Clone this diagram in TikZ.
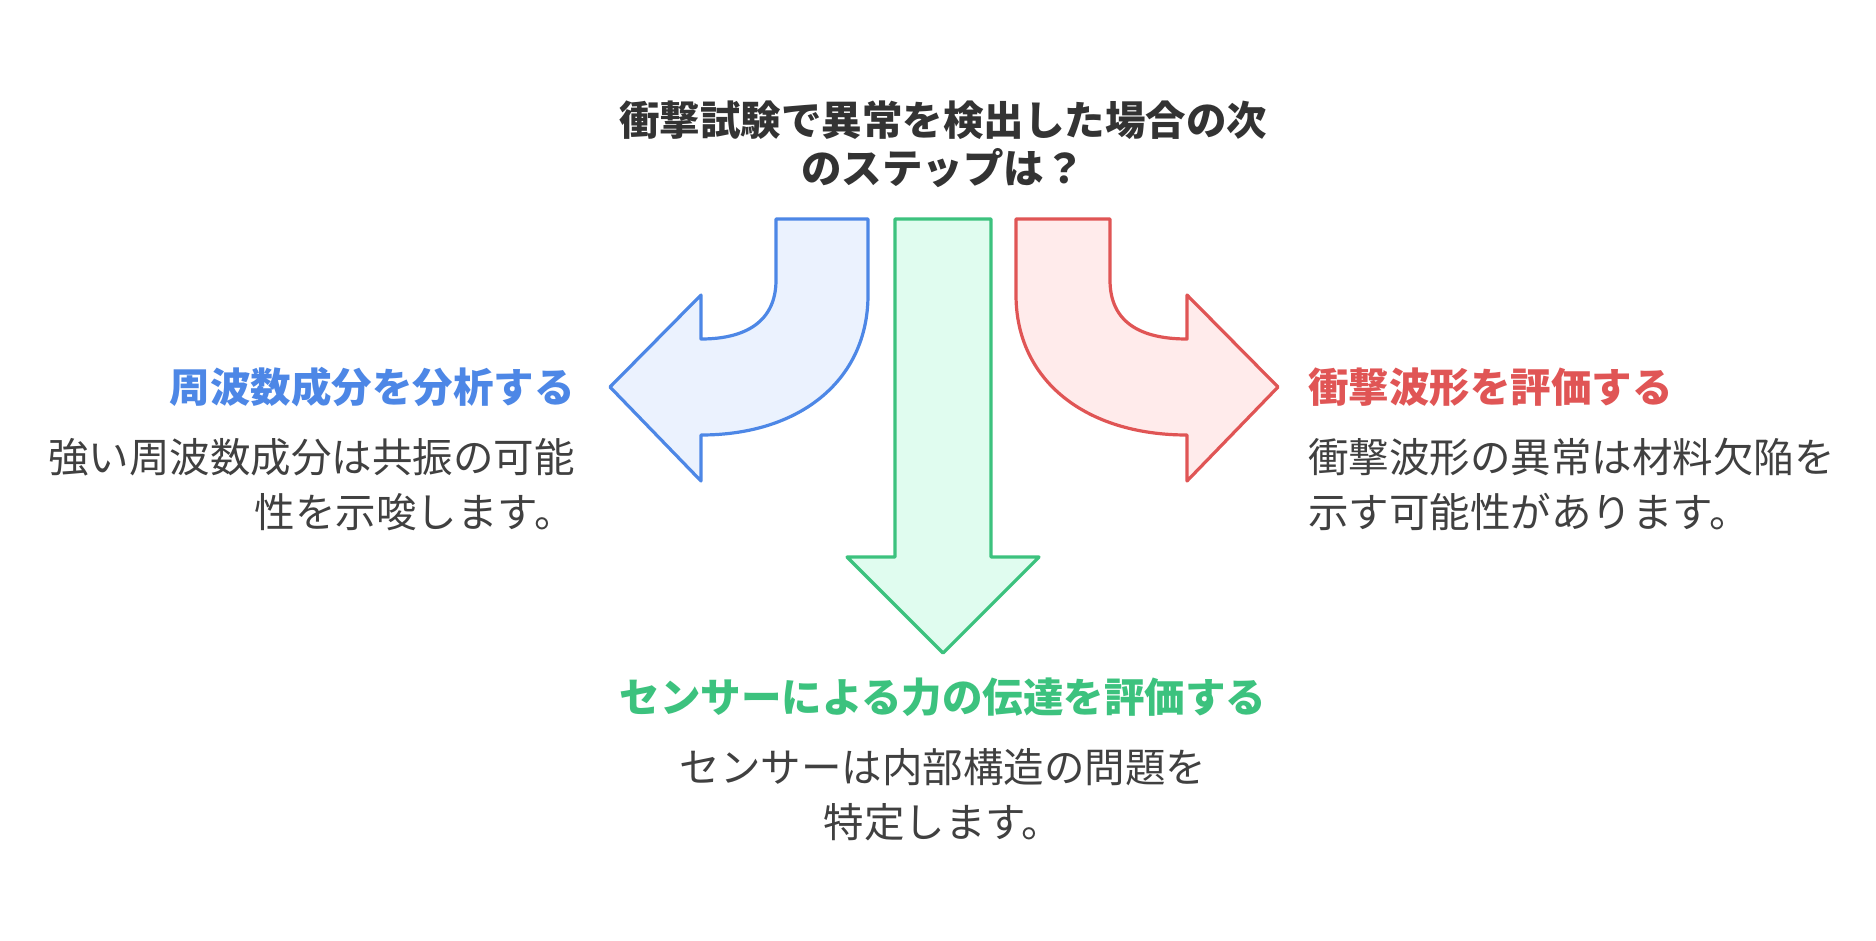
\documentclass[tikz,border=0pt]{standalone}
\usepackage{fontspec}
\setmainfont{Noto Sans CJK JP}
\begin{document}
\begin{tikzpicture}[x=1pt,y=-1pt,
 arr/.style={line width=3.2pt,line join=round},
 hd/.style={font=\fontsize{40.5}{48}\selectfont\bfseries,inner sep=0pt},
 bd/.style={font=\fontsize{40.5}{55}\selectfont,text=black!75,inner sep=0pt}]
\definecolor{bl}{HTML}{4D87E6}\definecolor{blf}{HTML}{EBF2FE}
\definecolor{gr}{HTML}{3CC27E}\definecolor{grf}{HTML}{E0FCEF}
\definecolor{rd}{HTML}{E05555}\definecolor{rdf}{HTML}{FFEBEB}
\useasboundingbox (0,0) rectangle (1876,940);
\fill[white] (0,0) rectangle (1876,940);
\draw[arr,draw=bl,fill=blf] (776,219) -- (868,219) -- (868,295) .. controls (868,380) and (800,435) .. (701,435) -- (701,481) -- (610,387) -- (701,295) -- (701,339) .. controls (745,339) and (776,322) .. (776,280) -- cycle;
\draw[arr,draw=rd,fill=rdf] (1110,219) -- (1016,219) -- (1016,295) .. controls (1016,380) and (1085,435) .. (1187,435) -- (1187,481) -- (1278,387) -- (1187,295) -- (1187,339) .. controls (1140,339) and (1110,322) .. (1110,280) -- cycle;
\draw[arr,draw=gr,fill=grf] (895,219) -- (991,219) -- (991,557) -- (1039,557) -- (943,653) -- (847,557) -- (895,557) -- cycle;
\node[hd,text=black!80,align=center] (t) at (943,144) {衝撃試験で異常を検出した場合の次\\のステップは？};
\node[hd,text=bl,anchor=east] (bh) at (575,387) {周波数成分を分析する};
\node[bd,anchor=north east,align=right] (bb) at (575,438) {強い周波数成分は共振の可能\\性を示唆します。};
\node[hd,text=rd,anchor=west] (rh) at (1308,387) {衝撃波形を評価する};
\node[bd,anchor=north west,align=left] (rb) at (1308,438) {衝撃波形の異常は材料欠陥を\\示す可能性があります。};
\node[hd,text=gr] (gh) at (943,697) {センサーによる力の伝達を評価する};
\node[bd,anchor=north,align=center] (gb) at (943,748) {センサーは内部構造の問題を\\特定します。};
\end{tikzpicture}
\end{document}
